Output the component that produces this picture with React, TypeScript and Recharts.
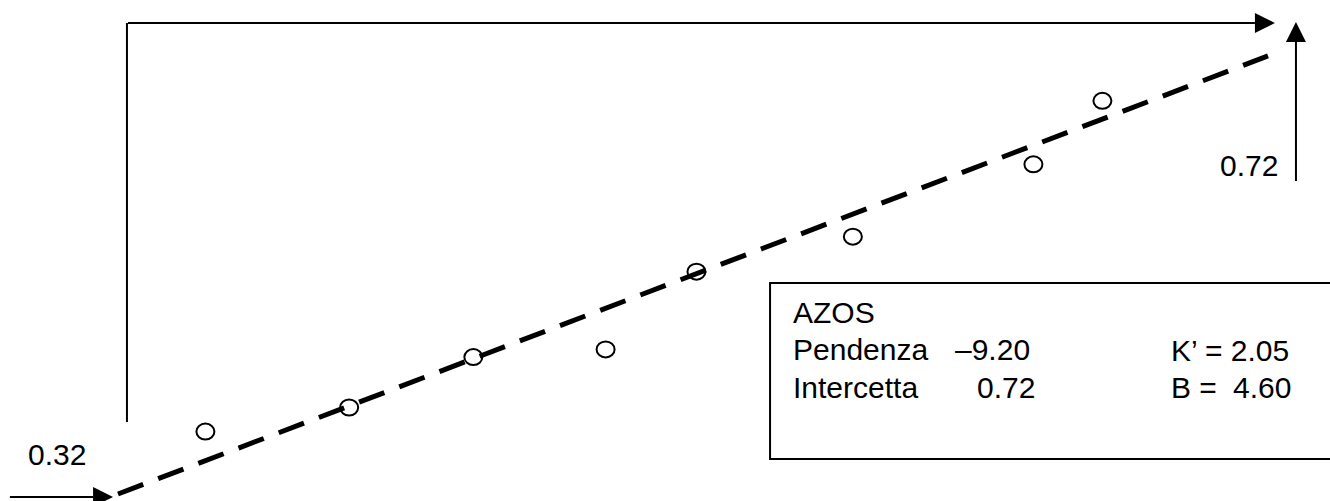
import React from "react";
import {
  ScatterChart,
  Scatter,
  XAxis,
  YAxis,
  ReferenceLine,
  ReferenceArea,
} from "recharts";

// measured points (x = relative conc., y = absorbance-like)
const pointX = [0.076, 0.201, 0.309, 0.424, 0.503, 0.639, 0.796, 0.856];
const pointY = [0.377, 0.399, 0.445, 0.452, 0.523, 0.555, 0.621, 0.679];

// fitted line ends
const fitX = [0.0, 1.0];
const fitY = [0.32, 0.72];

const xDomain = [-0.1026, 1.0539];
const yDomain = [0.3136, 0.7711];

const points = pointX.map((x, i) => ({ x, y: pointY[i] }));

const font = "'Liberation Sans', Arial, sans-serif";

// line with a filled triangle at the end
const Arrow = (props: any) => {
  const { x1, y1, x2, y2 } = props;
  const ang = Math.atan2(y2 - y1, x2 - x1);
  const len = 20;
  const half = 10;
  const bx = x2 - len * Math.cos(ang);
  const by = y2 - len * Math.sin(ang);
  const px = -Math.sin(ang) * half;
  const py = Math.cos(ang) * half;
  return (
    <g>
      <line x1={x1} y1={y1} x2={bx} y2={by} stroke="#000" strokeWidth={2} />
      <polygon
        points={`${x2},${y2} ${bx + px},${by + py} ${bx - px},${by - py}`}
        fill="#000"
      />
    </g>
  );
};

const Ring = (props: any) => {
  const { cx, cy } = props;
  return <ellipse cx={cx} cy={cy} rx={9} ry={8} fill="none" stroke="#000" strokeWidth={2} />;
};

export default function App() {
  return (
    <div style={{ position: "absolute", left: 0, top: 0, background: "#fff" }}>
      <ScatterChart width={1330} height={501} margin={{ top: 0, right: 0, bottom: 0, left: 0 }}>
        <XAxis type="number" dataKey="x" domain={xDomain} hide allowDataOverflow />
        <YAxis type="number" dataKey="y" domain={yDomain} hide allowDataOverflow />

        {/* frame and arrows */}
        <ReferenceLine
          segment={[{ x: 0.0078, y: 0.7501 }, { x: 0.0078, y: 0.3858 }]}
          stroke="#000"
          strokeWidth={2}
          ifOverflow="visible"
        />
        <ReferenceLine
          segment={[{ x: 0.0087, y: 0.7501 }, { x: 1.006, y: 0.7501 }]}
          shape={Arrow}
          ifOverflow="visible"
        />
        <ReferenceLine
          segment={[{ x: 1.0243, y: 0.6058 }, { x: 1.0243, y: 0.7511 }]}
          shape={Arrow}
          ifOverflow="visible"
        />
        <ReferenceLine
          segment={[{ x: -0.094, y: 0.3173 }, { x: -0.0043, y: 0.3173 }]}
          shape={Arrow}
          ifOverflow="visible"
        />

        <ReferenceArea
          x1={0.567}
          x2={1.07}
          y1={0.352}
          y2={0.5127}
          fill="none"
          stroke="#000"
          strokeWidth={2}
          ifOverflow="visible"
        />

        {/* regression line */}
        <ReferenceLine
          segment={[{ x: fitX[0], y: fitY[0] }, { x: fitX[1], y: fitY[1] }]}
          stroke="#000"
          strokeWidth={5}
          strokeDasharray="27 16"
          ifOverflow="visible"
        />

        <Scatter data={points} shape={Ring} isAnimationActive={false} />

        <g fontFamily={font} fontSize={30} fill="#000">
          <text x={28} y={465}>0.32</text>
          <text x={1220} y={176}>0.72</text>
          <text x={793} y={323}>AZOS</text>
          <text x={793} y={360}>Pendenza</text>
          <text x={955} y={360}>–9.20</text>
          <text x={1171} y={361}>K’ = 2.05</text>
          <text x={793} y={398}>Intercetta</text>
          <text x={977} y={398}>0.72</text>
          <text x={1171} y={398}>B =</text>
          <text x={1233} y={398}>4.60</text>
        </g>
      </ScatterChart>
    </div>
  );
}
